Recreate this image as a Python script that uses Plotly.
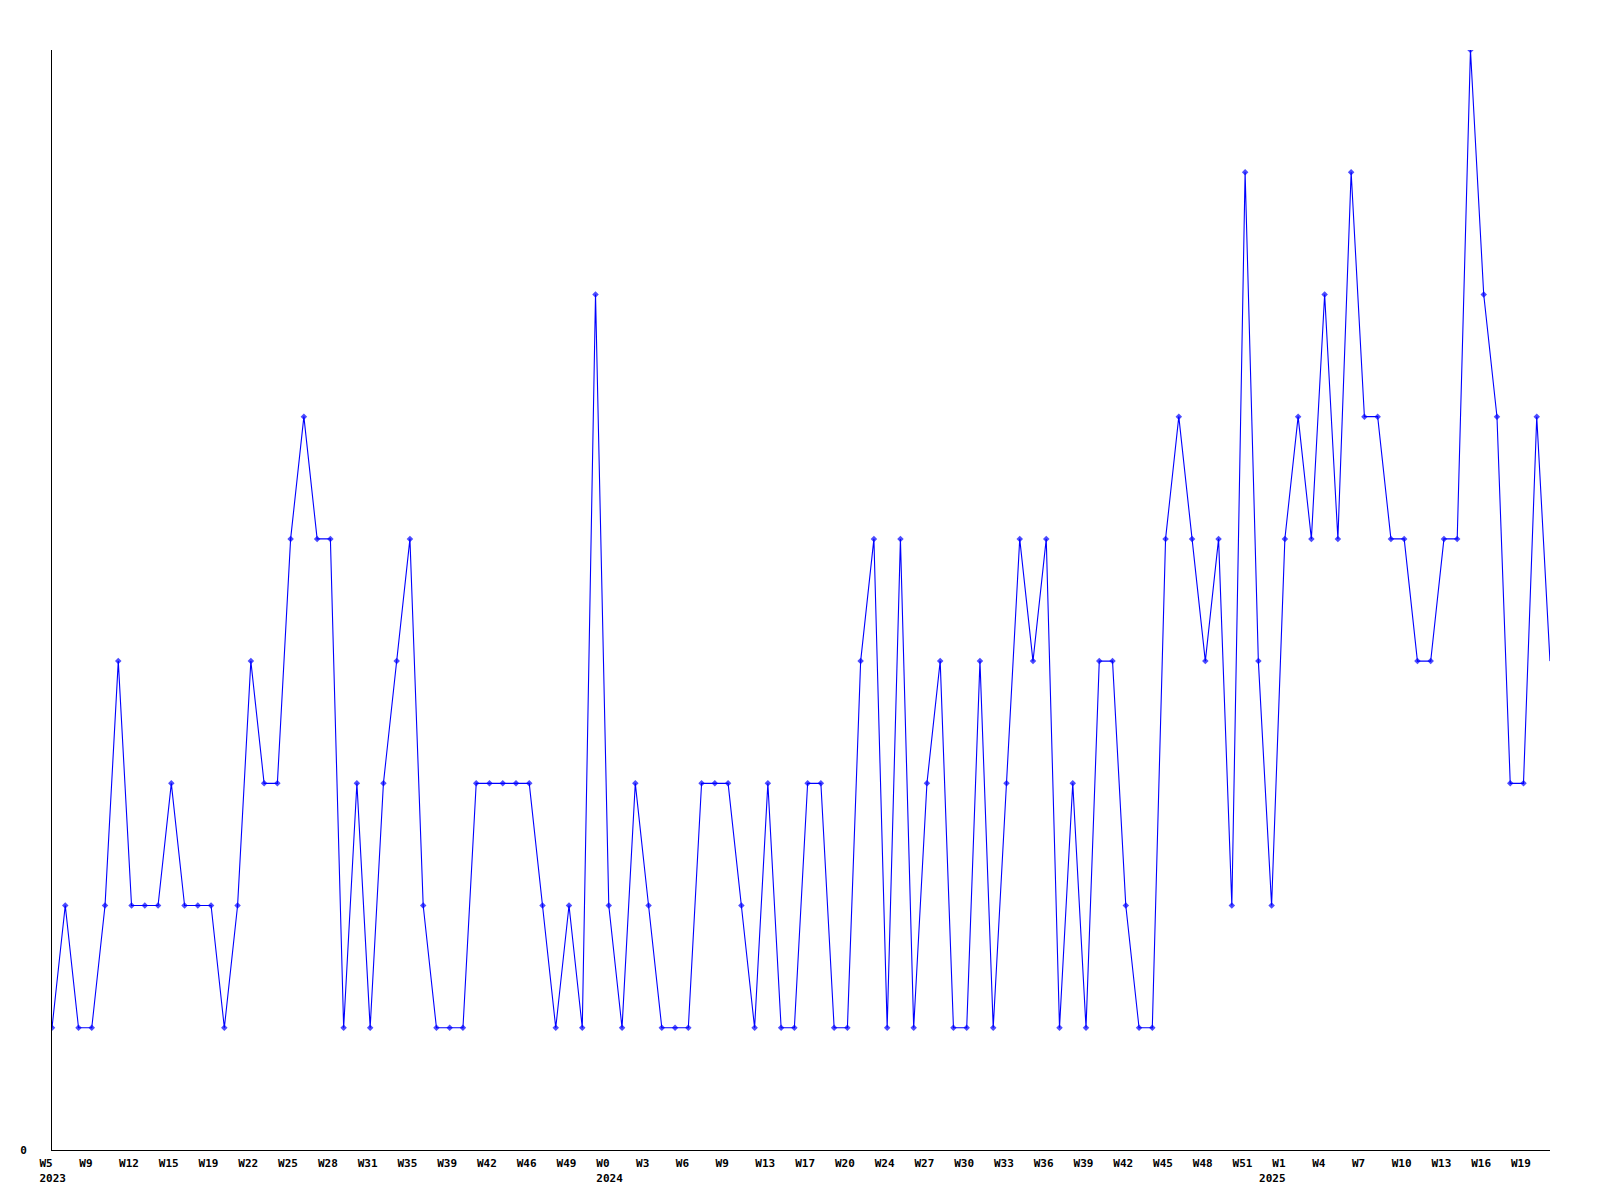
import plotly.graph_objects as go

# Weekly counts (2023 W5 .. 2025 W20)
values = [1, 2, 1, 1, 2, 4, 2, 2, 2, 3, 2, 2, 2, 1, 2, 4, 3, 3, 5, 6,
          5, 5, 1, 3, 1, 3, 4, 5, 2, 1, 1, 1, 3, 3, 3, 3, 3, 2, 1, 2,
          1, 7, 2, 1, 3, 2, 1, 1, 1, 3, 3, 3, 2, 1, 3, 1, 1, 3, 3, 1,
          1, 4, 5, 1, 5, 1, 3, 4, 1, 1, 4, 1, 3, 5, 4, 5, 1, 3, 1, 4,
          4, 2, 1, 1, 5, 6, 5, 4, 5, 2, 8, 4, 2, 5, 6, 5, 7, 5, 8, 6,
          6, 5, 5, 4, 4, 5, 5, 9, 7, 6, 3, 3, 6, 4]

# Tick labels (one every third point)
week_labels = ["W5", "W9", "W12", "W15", "W19", "W22", "W25", "W28", "W31", "W35",
               "W39", "W42", "W46", "W49", "W0", "W3", "W6", "W9", "W13", "W17",
               "W20", "W24", "W27", "W30", "W33", "W36", "W39", "W42", "W45", "W48",
               "W51", "W1", "W4", "W7", "W10", "W13", "W16", "W19"]
year_labels = {0: "2023", 14: "2024"}
year_2025_label = "2025"
year_2025_pos = 92

x = list(range(len(values)))

tickvals = []
ticktext = []
for k, w in enumerate(week_labels):
    tickvals.append(3 * k)
    if k in year_labels:
        ticktext.append(w + "<br>" + year_labels[k])
    else:
        ticktext.append(w)
tickvals.append(year_2025_pos)
ticktext.append(" <br>" + year_2025_label)

marker_sizes = [5] * (len(values) - 1) + [0]

fig = go.Figure()
fig.add_trace(go.Scatter(
    x=x, y=values, mode="lines+markers",
    line=dict(color="#0000ff", width=1.1),
    marker=dict(symbol="diamond", size=marker_sizes, color="#0000ff", line=dict(width=0)),
    showlegend=False, hoverinfo="skip",
))

font = dict(family="DejaVu Sans Mono", size=11, color="black", weight="bold")

fig.update_layout(
    width=1600, height=1200,
    margin=dict(l=42, r=58, t=42, b=58),
    paper_bgcolor="white", plot_bgcolor="white",
    font=font,
    xaxis=dict(
        range=[0, len(values) - 1],
        showline=True, linecolor="black", linewidth=1,
        showgrid=False, zeroline=False,
        ticks="",
        tickmode="array", tickvals=tickvals, ticktext=ticktext,
        ticklabelposition="outside right",
        ticklabelshift=-13,
        ticklabelstandoff=3,
        tickfont=font,
        tickangle=0,
    ),
    yaxis=dict(
        range=[0, 9],
        showline=True, linecolor="black", linewidth=1,
        showgrid=False, zeroline=False,
        ticks="",
        tickmode="array", tickvals=[0], ticktext=["0"],
        ticklabelstandoff=22,
        tickfont=font,
    ),
)

fig.write_html("out.html")
